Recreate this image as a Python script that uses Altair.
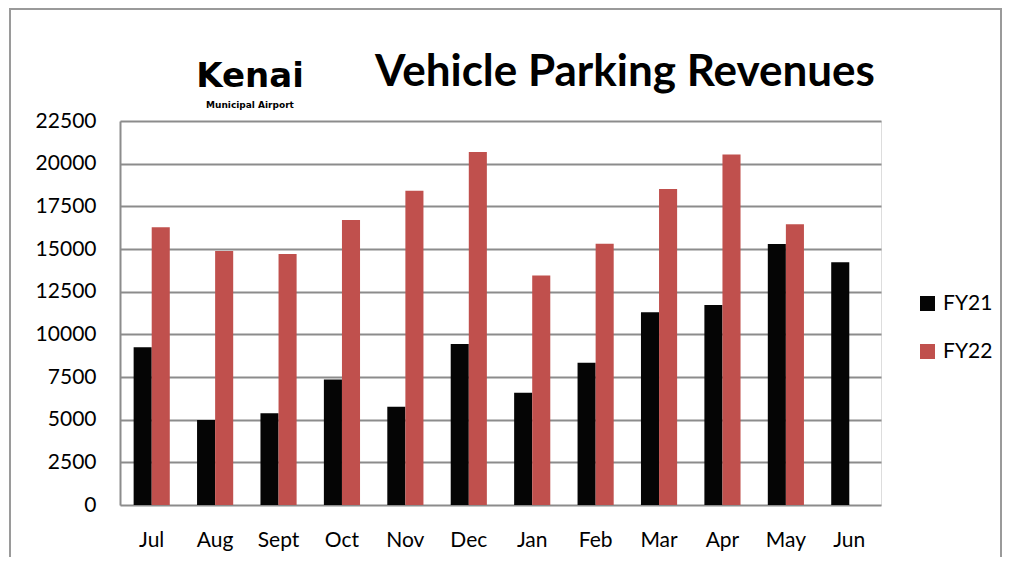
import altair as alt
import pandas as pd

months = ["Jul", "Aug", "Sept", "Oct", "Nov", "Dec", "Jan", "Feb", "Mar", "Apr", "May", "Jun"]
fy21 = [9240, 4980, 5370, 7360, 5760, 9430, 6580, 8340, 11290, 11720, 15290, 14220]
fy22 = [16270, 14880, 14710, 16700, 18420, 20680, 13440, 15310, 18520, 20530, 16450, None]
series = ["FY21", "FY22"]
colors = ["#050505", "#C0504D"]
y_ticks = [0, 2500, 5000, 7500, 10000, 12500, 15000, 17500, 20000, 22500]

rows = []
for m, a, b in zip(months, fy21, fy22):
    if a is not None:
        rows.append({"Month": m, "Series": "FY21", "Value": a})
    if b is not None:
        rows.append({"Month": m, "Series": "FY22", "Value": b})
df = pd.DataFrame(rows)

FONT = "Lato"
W, H = 761, 384

bars = alt.Chart(df).mark_bar(stroke=None).encode(
    x=alt.X("Month:N", sort=months, title=None,
            scale=alt.Scale(paddingInner=0.43, paddingOuter=0.215),
            axis=alt.Axis(labelAngle=0, ticks=False, domain=False, labelPadding=24,
                          labelFontSize=21, labelColor="#000000", labelFont=FONT)),
    xOffset=alt.XOffset("Series:N", sort=series),
    y=alt.Y("Value:Q", title=None,
            scale=alt.Scale(domain=[0, 22500], nice=False),
            axis=alt.Axis(values=y_ticks, format="d", ticks=False, labelPadding=24,
                          labelFontSize=21, labelColor="#000000", labelFont=FONT, grid=True,
                          gridColor="#8c8c8c", gridWidth=2, domainColor="#8c8c8c",
                          domainWidth=2)),
    color=alt.Color("Series:N", sort=series,
                    scale=alt.Scale(domain=series, range=colors),
                    legend=alt.Legend(title=None, orient="none", legendX=797, legendY=172,
                                      symbolType="square", symbolSize=225,
                                      symbolStrokeWidth=0, labelFontSize=21,
                                      labelFont=FONT, labelColor="#000000",
                                      rowPadding=26, labelOffset=5)),
)

frame = alt.Chart(pd.DataFrame({"a": [0]})).mark_rect(
    fill=None, stroke="#9a9a9a", strokeWidth=2
).encode(x=alt.value(-110), x2=alt.value(881), y=alt.value(-112), y2=alt.value(460))

title = alt.Chart(pd.DataFrame({"t": ["Vehicle Parking Revenues"]})).mark_text(
    font=FONT, fontSize=44, fontWeight="bold", color="#000000", align="center", baseline="middle"
).encode(text="t:N", x=alt.value(505), y=alt.value(-48))

logo = alt.Chart(pd.DataFrame({"t": ["Kenai"]})).mark_text(
    font="DejaVu Sans", fontSize=34, fontWeight="bold", color="#000000", align="center",
    baseline="alphabetic"
).encode(text="t:N", x=alt.value(130), y=alt.value(-34))

logo_sub = alt.Chart(pd.DataFrame({"t": ["Municipal Airport"]})).mark_text(
    font="DejaVu Sans", fontSize=9, fontWeight="bold", color="#000000", align="center",
    baseline="middle"
).encode(text="t:N", x=alt.value(130), y=alt.value(-16))

chart = alt.layer(frame, bars, title, logo, logo_sub).properties(
    width=W, height=H,
    autosize=alt.AutoSizeParams(type="none"),
    padding={"left": 112, "top": 113, "right": 121, "bottom": 52},
).configure_view(stroke=None).configure(background="#ffffff")

chart.save("out.html", embed_options={"renderer": "svg", "actions": False})
